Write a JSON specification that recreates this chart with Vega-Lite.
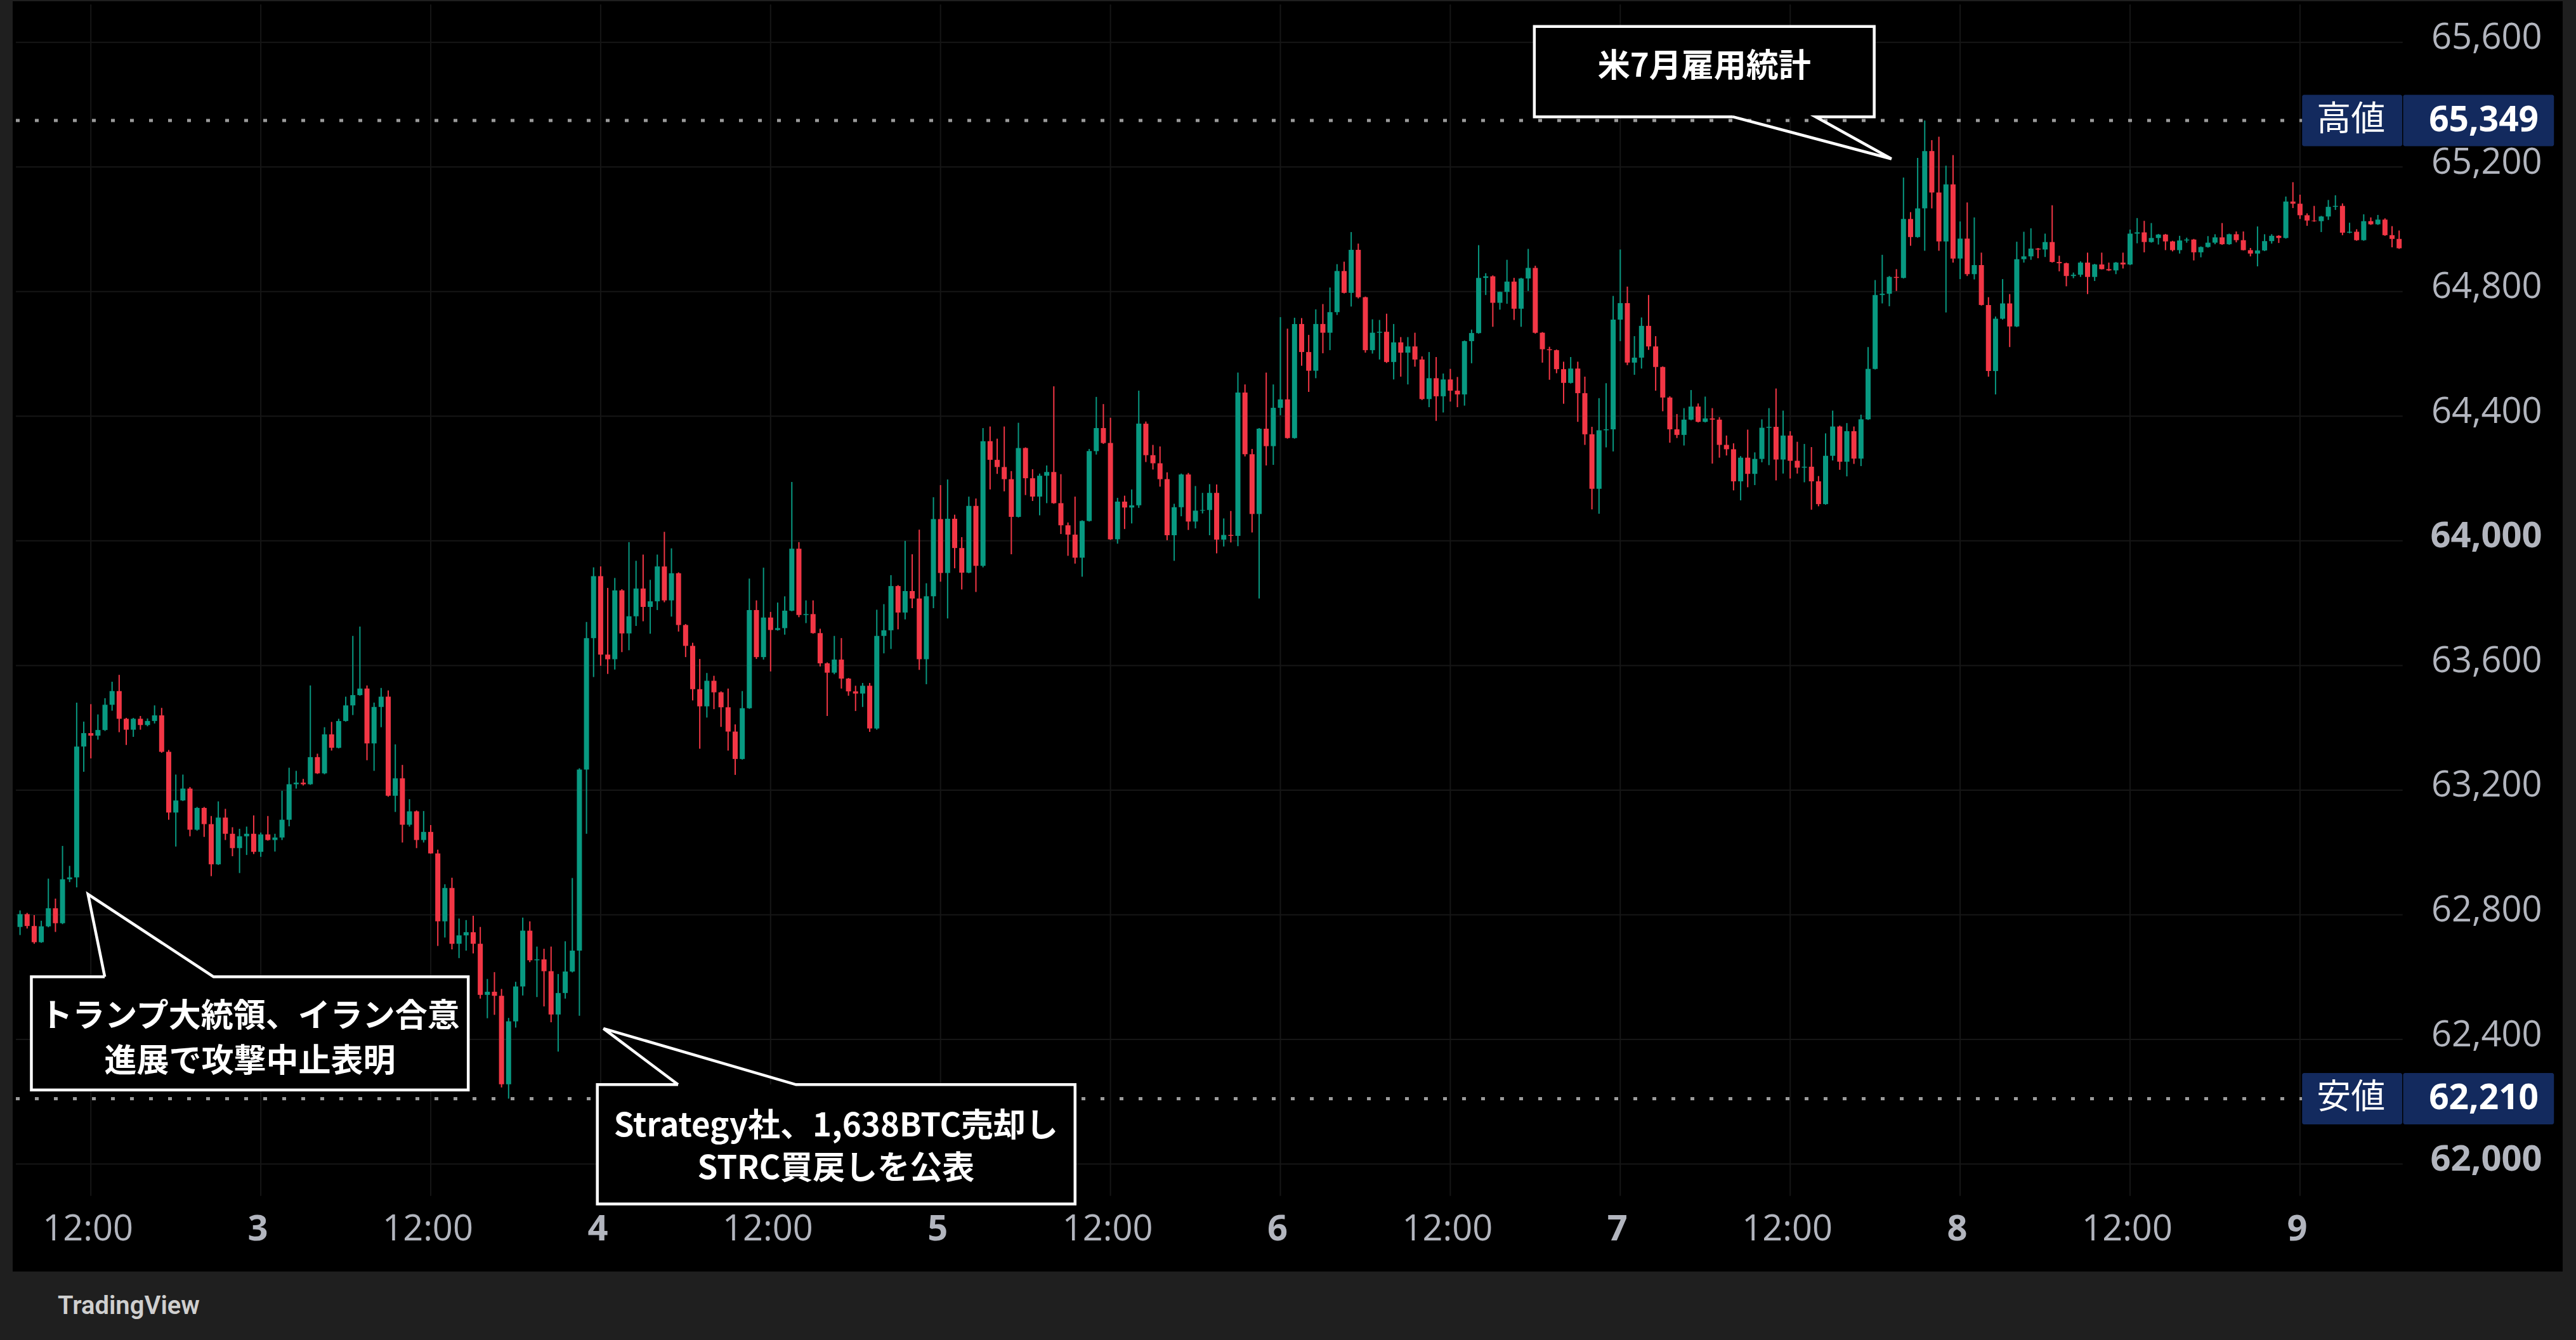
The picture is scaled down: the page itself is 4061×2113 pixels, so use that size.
{
  "$schema": "https://vega.github.io/schema/vega-lite/v6.json",
  "width": 4020,
  "height": 2003,
  "autosize": {"type": "none"},
  "padding": {"left": 20, "top": 2, "right": 21, "bottom": 108},
  "background": "#1f1f1f",
  "view": {"fill": "#000000", "stroke": null},
  "title": {
    "text": "TradingView",
    "orient": "bottom",
    "anchor": "start",
    "frame": "group",
    "offset": 55,
    "dx": 71,
    "baseline": "middle",
    "font": "Roboto",
    "fontSize": 40,
    "fontWeight": 600,
    "color": "#cfcfcf"
  },
  "datasets": {
    "candles": [
      {"t":"2026-08-02T07:00","o":62761,"h":62814,"l":62735,"c":62802},
      {"t":"2026-08-02T07:30","o":62802,"h":62806,"l":62756,"c":62764},
      {"t":"2026-08-02T08:00","o":62764,"h":62799,"l":62707,"c":62712},
      {"t":"2026-08-02T08:30","o":62712,"h":62781,"l":62710,"c":62763},
      {"t":"2026-08-02T09:00","o":62763,"h":62916,"l":62760,"c":62821},
      {"t":"2026-08-02T09:30","o":62821,"h":62852,"l":62745,"c":62773},
      {"t":"2026-08-02T10:00","o":62773,"h":63021,"l":62770,"c":62914},
      {"t":"2026-08-02T10:30","o":62914,"h":62957,"l":62905,"c":62920},
      {"t":"2026-08-02T11:00","o":62920,"h":63481,"l":62888,"c":63340},
      {"t":"2026-08-02T11:30","o":63340,"h":63420,"l":63259,"c":63383},
      {"t":"2026-08-02T12:00","o":63383,"h":63476,"l":63302,"c":63375},
      {"t":"2026-08-02T12:30","o":63375,"h":63443,"l":63362,"c":63393},
      {"t":"2026-08-02T13:00","o":63393,"h":63495,"l":63390,"c":63474},
      {"t":"2026-08-02T13:30","o":63474,"h":63548,"l":63455,"c":63518},
      {"t":"2026-08-02T14:00","o":63518,"h":63570,"l":63386,"c":63429},
      {"t":"2026-08-02T14:30","o":63429,"h":63432,"l":63345,"c":63394},
      {"t":"2026-08-02T15:00","o":63394,"h":63432,"l":63371,"c":63429},
      {"t":"2026-08-02T15:30","o":63429,"h":63438,"l":63394,"c":63409},
      {"t":"2026-08-02T16:00","o":63409,"h":63430,"l":63405,"c":63422},
      {"t":"2026-08-02T16:30","o":63422,"h":63472,"l":63414,"c":63440},
      {"t":"2026-08-02T17:00","o":63440,"h":63464,"l":63320,"c":63323},
      {"t":"2026-08-02T17:30","o":63323,"h":63329,"l":63105,"c":63128},
      {"t":"2026-08-02T18:00","o":63128,"h":63250,"l":63019,"c":63167},
      {"t":"2026-08-02T18:30","o":63167,"h":63250,"l":63165,"c":63205},
      {"t":"2026-08-02T19:00","o":63205,"h":63210,"l":63052,"c":63073},
      {"t":"2026-08-02T19:30","o":63073,"h":63146,"l":63070,"c":63143},
      {"t":"2026-08-02T20:00","o":63143,"h":63146,"l":63050,"c":63091},
      {"t":"2026-08-02T20:30","o":63091,"h":63117,"l":62924,"c":62962},
      {"t":"2026-08-02T21:00","o":62962,"h":63164,"l":62960,"c":63112},
      {"t":"2026-08-02T21:30","o":63112,"h":63140,"l":63040,"c":63060},
      {"t":"2026-08-02T22:00","o":63060,"h":63081,"l":62988,"c":63014},
      {"t":"2026-08-02T22:30","o":63014,"h":63076,"l":62934,"c":63052},
      {"t":"2026-08-02T23:00","o":63052,"h":63083,"l":62992,"c":63060},
      {"t":"2026-08-02T23:30","o":63060,"h":63119,"l":62995,"c":63002},
      {"t":"2026-08-03T00:00","o":63002,"h":63064,"l":62986,"c":63058},
      {"t":"2026-08-03T00:30","o":63058,"h":63117,"l":63038,"c":63040},
      {"t":"2026-08-03T01:00","o":63040,"h":63060,"l":63003,"c":63048},
      {"t":"2026-08-03T01:30","o":63048,"h":63198,"l":63040,"c":63105},
      {"t":"2026-08-03T02:00","o":63105,"h":63272,"l":63084,"c":63219},
      {"t":"2026-08-03T02:30","o":63219,"h":63262,"l":63205,"c":63224},
      {"t":"2026-08-03T03:00","o":63224,"h":63236,"l":63215,"c":63219},
      {"t":"2026-08-03T03:30","o":63219,"h":63536,"l":63217,"c":63306},
      {"t":"2026-08-03T04:00","o":63306,"h":63317,"l":63252,"c":63254},
      {"t":"2026-08-03T04:30","o":63254,"h":63402,"l":63251,"c":63379},
      {"t":"2026-08-03T05:00","o":63379,"h":63419,"l":63327,"c":63336},
      {"t":"2026-08-03T05:30","o":63336,"h":63429,"l":63334,"c":63422},
      {"t":"2026-08-03T06:00","o":63422,"h":63500,"l":63420,"c":63472},
      {"t":"2026-08-03T06:30","o":63472,"h":63695,"l":63441,"c":63505},
      {"t":"2026-08-03T07:00","o":63505,"h":63725,"l":63503,"c":63526},
      {"t":"2026-08-03T07:30","o":63526,"h":63536,"l":63296,"c":63350},
      {"t":"2026-08-03T08:00","o":63350,"h":63481,"l":63262,"c":63467},
      {"t":"2026-08-03T08:30","o":63467,"h":63528,"l":63402,"c":63500},
      {"t":"2026-08-03T09:00","o":63500,"h":63520,"l":63179,"c":63182},
      {"t":"2026-08-03T09:30","o":63182,"h":63347,"l":63130,"c":63238},
      {"t":"2026-08-03T10:00","o":63238,"h":63281,"l":63032,"c":63089},
      {"t":"2026-08-03T10:30","o":63089,"h":63171,"l":63083,"c":63132},
      {"t":"2026-08-03T11:00","o":63132,"h":63135,"l":63014,"c":63040},
      {"t":"2026-08-03T11:30","o":63040,"h":63133,"l":63032,"c":63066},
      {"t":"2026-08-03T12:00","o":63066,"h":63088,"l":62996,"c":62997},
      {"t":"2026-08-03T12:30","o":62997,"h":63009,"l":62700,"c":62779},
      {"t":"2026-08-03T13:00","o":62779,"h":62898,"l":62727,"c":62886},
      {"t":"2026-08-03T13:30","o":62886,"h":62919,"l":62689,"c":62707},
      {"t":"2026-08-03T14:00","o":62707,"h":62788,"l":62661,"c":62734},
      {"t":"2026-08-03T14:30","o":62734,"h":62783,"l":62685,"c":62744},
      {"t":"2026-08-03T15:00","o":62744,"h":62797,"l":62676,"c":62707},
      {"t":"2026-08-03T15:30","o":62707,"h":62761,"l":62531,"c":62543},
      {"t":"2026-08-03T16:00","o":62543,"h":62594,"l":62468,"c":62553},
      {"t":"2026-08-03T16:30","o":62553,"h":62616,"l":62479,"c":62540},
      {"t":"2026-08-03T17:00","o":62540,"h":62562,"l":62246,"c":62256},
      {"t":"2026-08-03T17:30","o":62256,"h":62469,"l":62210,"c":62458},
      {"t":"2026-08-03T18:00","o":62458,"h":62585,"l":62438,"c":62570},
      {"t":"2026-08-03T18:30","o":62570,"h":62791,"l":62541,"c":62749},
      {"t":"2026-08-03T19:00","o":62749,"h":62779,"l":62648,"c":62654},
      {"t":"2026-08-03T19:30","o":62654,"h":62698,"l":62536,"c":62657},
      {"t":"2026-08-03T20:00","o":62657,"h":62691,"l":62506,"c":62619},
      {"t":"2026-08-03T20:30","o":62619,"h":62698,"l":62455,"c":62480},
      {"t":"2026-08-03T21:00","o":62480,"h":62610,"l":62361,"c":62549},
      {"t":"2026-08-03T21:30","o":62549,"h":62715,"l":62531,"c":62618},
      {"t":"2026-08-03T22:00","o":62618,"h":62918,"l":62615,"c":62685},
      {"t":"2026-08-03T22:30","o":62685,"h":63270,"l":62476,"c":63266},
      {"t":"2026-08-03T23:00","o":63266,"h":63740,"l":63060,"c":63688},
      {"t":"2026-08-03T23:30","o":63688,"h":63915,"l":63563,"c":63887},
      {"t":"2026-08-04T00:00","o":63887,"h":63918,"l":63599,"c":63635},
      {"t":"2026-08-04T00:30","o":63635,"h":63849,"l":63573,"c":63620},
      {"t":"2026-08-04T01:00","o":63620,"h":63881,"l":63587,"c":63841},
      {"t":"2026-08-04T01:30","o":63841,"h":63845,"l":63643,"c":63703},
      {"t":"2026-08-04T02:00","o":63703,"h":63996,"l":63649,"c":63758},
      {"t":"2026-08-04T02:30","o":63758,"h":63936,"l":63727,"c":63847},
      {"t":"2026-08-04T03:00","o":63847,"h":63956,"l":63742,"c":63788},
      {"t":"2026-08-04T03:30","o":63788,"h":63875,"l":63702,"c":63806},
      {"t":"2026-08-04T04:00","o":63806,"h":63956,"l":63778,"c":63918},
      {"t":"2026-08-04T04:30","o":63918,"h":64029,"l":63803,"c":63809},
      {"t":"2026-08-04T05:00","o":63809,"h":63976,"l":63757,"c":63896},
      {"t":"2026-08-04T05:30","o":63896,"h":63899,"l":63709,"c":63730},
      {"t":"2026-08-04T06:00","o":63730,"h":63733,"l":63627,"c":63663},
      {"t":"2026-08-04T06:30","o":63663,"h":63673,"l":63488,"c":63524},
      {"t":"2026-08-04T07:00","o":63524,"h":63621,"l":63333,"c":63469},
      {"t":"2026-08-04T07:30","o":63469,"h":63576,"l":63433,"c":63551},
      {"t":"2026-08-04T08:00","o":63551,"h":63567,"l":63460,"c":63514},
      {"t":"2026-08-04T08:30","o":63514,"h":63517,"l":63403,"c":63466},
      {"t":"2026-08-04T09:00","o":63466,"h":63526,"l":63327,"c":63388},
      {"t":"2026-08-04T09:30","o":63388,"h":63411,"l":63249,"c":63300},
      {"t":"2026-08-04T10:00","o":63300,"h":63518,"l":63298,"c":63463},
      {"t":"2026-08-04T10:30","o":63463,"h":63879,"l":63461,"c":63778},
      {"t":"2026-08-04T11:00","o":63778,"h":63809,"l":63621,"c":63627},
      {"t":"2026-08-04T11:30","o":63627,"h":63914,"l":63619,"c":63754},
      {"t":"2026-08-04T12:00","o":63754,"h":63772,"l":63581,"c":63714},
      {"t":"2026-08-04T12:30","o":63714,"h":63802,"l":63712,"c":63720},
      {"t":"2026-08-04T13:00","o":63720,"h":63822,"l":63699,"c":63776},
      {"t":"2026-08-04T13:30","o":63776,"h":64189,"l":63774,"c":63975},
      {"t":"2026-08-04T14:00","o":63975,"h":63996,"l":63755,"c":63762},
      {"t":"2026-08-04T14:30","o":63762,"h":63809,"l":63736,"c":63765},
      {"t":"2026-08-04T15:00","o":63765,"h":63809,"l":63702,"c":63704},
      {"t":"2026-08-04T15:30","o":63704,"h":63718,"l":63597,"c":63607},
      {"t":"2026-08-04T16:00","o":63607,"h":63610,"l":63438,"c":63577},
      {"t":"2026-08-04T16:30","o":63577,"h":63695,"l":63572,"c":63619},
      {"t":"2026-08-04T17:00","o":63619,"h":63688,"l":63526,"c":63558},
      {"t":"2026-08-04T17:30","o":63558,"h":63560,"l":63503,"c":63517},
      {"t":"2026-08-04T18:00","o":63517,"h":63535,"l":63454,"c":63510},
      {"t":"2026-08-04T18:30","o":63510,"h":63544,"l":63467,"c":63535},
      {"t":"2026-08-04T19:00","o":63535,"h":63544,"l":63387,"c":63398},
      {"t":"2026-08-04T19:30","o":63398,"h":63779,"l":63394,"c":63695},
      {"t":"2026-08-04T20:00","o":63695,"h":63797,"l":63639,"c":63713},
      {"t":"2026-08-04T20:30","o":63713,"h":63890,"l":63653,"c":63855},
      {"t":"2026-08-04T21:00","o":63855,"h":63858,"l":63716,"c":63770},
      {"t":"2026-08-04T21:30","o":63770,"h":64000,"l":63748,"c":63839},
      {"t":"2026-08-04T22:00","o":63839,"h":63957,"l":63784,"c":63815},
      {"t":"2026-08-04T22:30","o":63815,"h":64036,"l":63586,"c":63620},
      {"t":"2026-08-04T23:00","o":63620,"h":63864,"l":63540,"c":63822},
      {"t":"2026-08-04T23:30","o":63822,"h":64140,"l":63784,"c":64070},
      {"t":"2026-08-05T00:00","o":64070,"h":64179,"l":63869,"c":63897},
      {"t":"2026-08-05T00:30","o":63897,"h":64197,"l":63751,"c":64071},
      {"t":"2026-08-05T01:00","o":64071,"h":64084,"l":63912,"c":63977},
      {"t":"2026-08-05T01:30","o":63977,"h":64012,"l":63844,"c":63898},
      {"t":"2026-08-05T02:00","o":63898,"h":64142,"l":63896,"c":64112},
      {"t":"2026-08-05T02:30","o":64112,"h":64136,"l":63836,"c":63920},
      {"t":"2026-08-05T03:00","o":63920,"h":64362,"l":63915,"c":64320},
      {"t":"2026-08-05T03:30","o":64320,"h":64367,"l":64165,"c":64260},
      {"t":"2026-08-05T04:00","o":64260,"h":64328,"l":64215,"c":64237},
      {"t":"2026-08-05T04:30","o":64237,"h":64367,"l":64159,"c":64198},
      {"t":"2026-08-05T05:00","o":64198,"h":64224,"l":63957,"c":64077},
      {"t":"2026-08-05T05:30","o":64077,"h":64379,"l":64075,"c":64298},
      {"t":"2026-08-05T06:00","o":64298,"h":64300,"l":64147,"c":64201},
      {"t":"2026-08-05T06:30","o":64201,"h":64230,"l":64128,"c":64142},
      {"t":"2026-08-05T07:00","o":64142,"h":64216,"l":64082,"c":64209},
      {"t":"2026-08-05T07:30","o":64209,"h":64242,"l":64121,"c":64221},
      {"t":"2026-08-05T08:00","o":64221,"h":64496,"l":64119,"c":64121},
      {"t":"2026-08-05T08:30","o":64121,"h":64214,"l":64022,"c":64050},
      {"t":"2026-08-05T09:00","o":64050,"h":64059,"l":63952,"c":64020},
      {"t":"2026-08-05T09:30","o":64020,"h":64142,"l":63927,"c":63946},
      {"t":"2026-08-05T10:00","o":63946,"h":64066,"l":63885,"c":64064},
      {"t":"2026-08-05T10:30","o":64064,"h":64295,"l":64062,"c":64288},
      {"t":"2026-08-05T11:00","o":64288,"h":64462,"l":64277,"c":64362},
      {"t":"2026-08-05T11:30","o":64362,"h":64439,"l":64311,"c":64314},
      {"t":"2026-08-05T12:00","o":64314,"h":64395,"l":64003,"c":64005},
      {"t":"2026-08-05T12:30","o":64005,"h":64138,"l":63991,"c":64126},
      {"t":"2026-08-05T13:00","o":64126,"h":64145,"l":64038,"c":64107},
      {"t":"2026-08-05T13:30","o":64107,"h":64165,"l":64056,"c":64114},
      {"t":"2026-08-05T14:00","o":64114,"h":64482,"l":64106,"c":64376},
      {"t":"2026-08-05T14:30","o":64376,"h":64383,"l":64253,"c":64275},
      {"t":"2026-08-05T15:00","o":64275,"h":64308,"l":64229,"c":64249},
      {"t":"2026-08-05T15:30","o":64249,"h":64303,"l":64174,"c":64198},
      {"t":"2026-08-05T16:00","o":64198,"h":64220,"l":64002,"c":64018},
      {"t":"2026-08-05T16:30","o":64018,"h":64119,"l":63936,"c":64108},
      {"t":"2026-08-05T17:00","o":64108,"h":64216,"l":64079,"c":64213},
      {"t":"2026-08-05T17:30","o":64213,"h":64218,"l":64035,"c":64062},
      {"t":"2026-08-05T18:00","o":64062,"h":64176,"l":64040,"c":64097},
      {"t":"2026-08-05T18:30","o":64097,"h":64154,"l":64088,"c":64099},
      {"t":"2026-08-05T19:00","o":64099,"h":64182,"l":64018,"c":64154},
      {"t":"2026-08-05T19:30","o":64154,"h":64181,"l":63960,"c":64004},
      {"t":"2026-08-05T20:00","o":64004,"h":64072,"l":63982,"c":64019},
      {"t":"2026-08-05T20:30","o":64019,"h":64096,"l":63995,"c":64016},
      {"t":"2026-08-05T21:00","o":64016,"h":64540,"l":63983,"c":64476},
      {"t":"2026-08-05T21:30","o":64476,"h":64502,"l":64271,"c":64278},
      {"t":"2026-08-05T22:00","o":64278,"h":64295,"l":64027,"c":64086},
      {"t":"2026-08-05T22:30","o":64086,"h":64362,"l":63815,"c":64360},
      {"t":"2026-08-05T23:00","o":64360,"h":64540,"l":64242,"c":64304},
      {"t":"2026-08-05T23:30","o":64304,"h":64502,"l":64244,"c":64427},
      {"t":"2026-08-06T00:00","o":64427,"h":64718,"l":64403,"c":64454},
      {"t":"2026-08-06T00:30","o":64454,"h":64681,"l":64328,"c":64330},
      {"t":"2026-08-06T01:00","o":64330,"h":64716,"l":64328,"c":64696},
      {"t":"2026-08-06T01:30","o":64696,"h":64715,"l":64562,"c":64606},
      {"t":"2026-08-06T02:00","o":64606,"h":64661,"l":64478,"c":64546},
      {"t":"2026-08-06T02:30","o":64546,"h":64743,"l":64522,"c":64696},
      {"t":"2026-08-06T03:00","o":64696,"h":64760,"l":64602,"c":64668},
      {"t":"2026-08-06T03:30","o":64668,"h":64813,"l":64612,"c":64734},
      {"t":"2026-08-06T04:00","o":64734,"h":64888,"l":64725,"c":64866},
      {"t":"2026-08-06T04:30","o":64866,"h":64896,"l":64794,"c":64796},
      {"t":"2026-08-06T05:00","o":64796,"h":64991,"l":64752,"c":64934},
      {"t":"2026-08-06T05:30","o":64934,"h":64954,"l":64778,"c":64782},
      {"t":"2026-08-06T06:00","o":64782,"h":64784,"l":64604,"c":64612},
      {"t":"2026-08-06T06:30","o":64612,"h":64711,"l":64601,"c":64668},
      {"t":"2026-08-06T07:00","o":64668,"h":64709,"l":64582,"c":64671},
      {"t":"2026-08-06T07:30","o":64671,"h":64729,"l":64571,"c":64574},
      {"t":"2026-08-06T08:00","o":64574,"h":64696,"l":64518,"c":64637},
      {"t":"2026-08-06T08:30","o":64637,"h":64654,"l":64527,"c":64604},
      {"t":"2026-08-06T09:00","o":64604,"h":64654,"l":64502,"c":64624},
      {"t":"2026-08-06T09:30","o":64624,"h":64668,"l":64559,"c":64582},
      {"t":"2026-08-06T10:00","o":64582,"h":64592,"l":64452,"c":64455},
      {"t":"2026-08-06T10:30","o":64455,"h":64606,"l":64429,"c":64522},
      {"t":"2026-08-06T11:00","o":64522,"h":64590,"l":64385,"c":64464},
      {"t":"2026-08-06T11:30","o":64464,"h":64537,"l":64412,"c":64518},
      {"t":"2026-08-06T12:00","o":64518,"h":64552,"l":64447,"c":64482},
      {"t":"2026-08-06T12:30","o":64482,"h":64526,"l":64429,"c":64470},
      {"t":"2026-08-06T13:00","o":64470,"h":64643,"l":64434,"c":64641},
      {"t":"2026-08-06T13:30","o":64641,"h":64678,"l":64570,"c":64667},
      {"t":"2026-08-06T14:00","o":64667,"h":64949,"l":64665,"c":64844},
      {"t":"2026-08-06T14:30","o":64844,"h":64859,"l":64789,"c":64849},
      {"t":"2026-08-06T15:00","o":64849,"h":64852,"l":64687,"c":64764},
      {"t":"2026-08-06T15:30","o":64764,"h":64800,"l":64742,"c":64799},
      {"t":"2026-08-06T16:00","o":64799,"h":64902,"l":64761,"c":64832},
      {"t":"2026-08-06T16:30","o":64832,"h":64844,"l":64709,"c":64745},
      {"t":"2026-08-06T17:00","o":64745,"h":64844,"l":64687,"c":64842},
      {"t":"2026-08-06T17:30","o":64842,"h":64937,"l":64802,"c":64876},
      {"t":"2026-08-06T18:00","o":64876,"h":64883,"l":64665,"c":64668},
      {"t":"2026-08-06T18:30","o":64668,"h":64670,"l":64572,"c":64615},
      {"t":"2026-08-06T19:00","o":64615,"h":64623,"l":64517,"c":64612},
      {"t":"2026-08-06T19:30","o":64612,"h":64614,"l":64538,"c":64551},
      {"t":"2026-08-06T20:00","o":64551,"h":64575,"l":64440,"c":64507},
      {"t":"2026-08-06T20:30","o":64507,"h":64590,"l":64505,"c":64553},
      {"t":"2026-08-06T21:00","o":64553,"h":64575,"l":64382,"c":64474},
      {"t":"2026-08-06T21:30","o":64474,"h":64527,"l":64308,"c":64342},
      {"t":"2026-08-06T22:00","o":64342,"h":64366,"l":64101,"c":64167},
      {"t":"2026-08-06T22:30","o":64167,"h":64458,"l":64087,"c":64355},
      {"t":"2026-08-06T23:00","o":64355,"h":64506,"l":64300,"c":64358},
      {"t":"2026-08-06T23:30","o":64358,"h":64786,"l":64287,"c":64710},
      {"t":"2026-08-07T00:00","o":64710,"h":64935,"l":64641,"c":64763},
      {"t":"2026-08-07T00:30","o":64763,"h":64816,"l":64564,"c":64572},
      {"t":"2026-08-07T01:00","o":64572,"h":64657,"l":64533,"c":64588},
      {"t":"2026-08-07T01:30","o":64588,"h":64717,"l":64553,"c":64690},
      {"t":"2026-08-07T02:00","o":64690,"h":64789,"l":64613,"c":64624},
      {"t":"2026-08-07T02:30","o":64624,"h":64657,"l":64482,"c":64558},
      {"t":"2026-08-07T03:00","o":64558,"h":64560,"l":64416,"c":64460},
      {"t":"2026-08-07T03:30","o":64460,"h":64464,"l":64315,"c":64358},
      {"t":"2026-08-07T04:00","o":64358,"h":64407,"l":64330,"c":64340},
      {"t":"2026-08-07T04:30","o":64340,"h":64426,"l":64306,"c":64389},
      {"t":"2026-08-07T05:00","o":64389,"h":64484,"l":64387,"c":64431},
      {"t":"2026-08-07T05:30","o":64431,"h":64441,"l":64380,"c":64382},
      {"t":"2026-08-07T06:00","o":64382,"h":64463,"l":64380,"c":64393},
      {"t":"2026-08-07T06:30","o":64393,"h":64426,"l":64248,"c":64389},
      {"t":"2026-08-07T07:00","o":64389,"h":64397,"l":64267,"c":64308},
      {"t":"2026-08-07T07:30","o":64308,"h":64338,"l":64274,"c":64294},
      {"t":"2026-08-07T08:00","o":64294,"h":64313,"l":64162,"c":64191},
      {"t":"2026-08-07T08:30","o":64191,"h":64272,"l":64130,"c":64267},
      {"t":"2026-08-07T09:00","o":64267,"h":64357,"l":64172,"c":64215},
      {"t":"2026-08-07T09:30","o":64215,"h":64284,"l":64179,"c":64263},
      {"t":"2026-08-07T10:00","o":64263,"h":64390,"l":64252,"c":64363},
      {"t":"2026-08-07T10:30","o":64363,"h":64426,"l":64243,"c":64366},
      {"t":"2026-08-07T11:00","o":64366,"h":64489,"l":64194,"c":64261},
      {"t":"2026-08-07T11:30","o":64261,"h":64418,"l":64216,"c":64338},
      {"t":"2026-08-07T12:00","o":64338,"h":64352,"l":64200,"c":64257},
      {"t":"2026-08-07T12:30","o":64257,"h":64318,"l":64216,"c":64235},
      {"t":"2026-08-07T13:00","o":64235,"h":64311,"l":64188,"c":64238},
      {"t":"2026-08-07T13:30","o":64238,"h":64301,"l":64100,"c":64191},
      {"t":"2026-08-07T14:00","o":64191,"h":64208,"l":64111,"c":64118},
      {"t":"2026-08-07T14:30","o":64118,"h":64345,"l":64116,"c":64273},
      {"t":"2026-08-07T15:00","o":64273,"h":64418,"l":64258,"c":64367},
      {"t":"2026-08-07T15:30","o":64367,"h":64370,"l":64228,"c":64254},
      {"t":"2026-08-07T16:00","o":64254,"h":64378,"l":64207,"c":64352},
      {"t":"2026-08-07T16:30","o":64352,"h":64367,"l":64247,"c":64264},
      {"t":"2026-08-07T17:00","o":64264,"h":64405,"l":64240,"c":64390},
      {"t":"2026-08-07T17:30","o":64390,"h":64622,"l":64388,"c":64552},
      {"t":"2026-08-07T18:00","o":64552,"h":64837,"l":64550,"c":64789},
      {"t":"2026-08-07T18:30","o":64789,"h":64918,"l":64762,"c":64793},
      {"t":"2026-08-07T19:00","o":64793,"h":64850,"l":64753,"c":64847},
      {"t":"2026-08-07T19:30","o":64847,"h":64872,"l":64802,"c":64844},
      {"t":"2026-08-07T20:00","o":64844,"h":65166,"l":64842,"c":65033},
      {"t":"2026-08-07T20:30","o":65033,"h":65055,"l":64947,"c":64975},
      {"t":"2026-08-07T21:00","o":64975,"h":65229,"l":64973,"c":65067},
      {"t":"2026-08-07T21:30","o":65067,"h":65349,"l":64931,"c":65251},
      {"t":"2026-08-07T22:00","o":65251,"h":65286,"l":65067,"c":65118},
      {"t":"2026-08-07T22:30","o":65118,"h":65297,"l":64931,"c":64961},
      {"t":"2026-08-07T23:00","o":64961,"h":65204,"l":64733,"c":65144},
      {"t":"2026-08-07T23:30","o":65144,"h":65238,"l":64893,"c":64906},
      {"t":"2026-08-08T00:00","o":64906,"h":65025,"l":64840,"c":64970},
      {"t":"2026-08-08T00:30","o":64970,"h":65086,"l":64850,"c":64856},
      {"t":"2026-08-08T01:00","o":64856,"h":65038,"l":64839,"c":64885},
      {"t":"2026-08-08T01:30","o":64885,"h":64925,"l":64755,"c":64757},
      {"t":"2026-08-08T02:00","o":64757,"h":64782,"l":64527,"c":64545},
      {"t":"2026-08-08T02:30","o":64545,"h":64720,"l":64470,"c":64713},
      {"t":"2026-08-08T03:00","o":64713,"h":64840,"l":64710,"c":64762},
      {"t":"2026-08-08T03:30","o":64762,"h":64792,"l":64622,"c":64688},
      {"t":"2026-08-08T04:00","o":64688,"h":64960,"l":64686,"c":64904},
      {"t":"2026-08-08T04:30","o":64904,"h":64992,"l":64893,"c":64913},
      {"t":"2026-08-08T05:00","o":64913,"h":65003,"l":64902,"c":64938},
      {"t":"2026-08-08T05:30","o":64938,"h":64940,"l":64907,"c":64935},
      {"t":"2026-08-08T06:00","o":64935,"h":64986,"l":64911,"c":64959},
      {"t":"2026-08-08T06:30","o":64959,"h":65077,"l":64893,"c":64895},
      {"t":"2026-08-08T07:00","o":64895,"h":64915,"l":64865,"c":64891},
      {"t":"2026-08-08T07:30","o":64891,"h":64893,"l":64817,"c":64850},
      {"t":"2026-08-08T08:00","o":64850,"h":64861,"l":64843,"c":64854},
      {"t":"2026-08-08T08:30","o":64854,"h":64897,"l":64847,"c":64893},
      {"t":"2026-08-08T09:00","o":64893,"h":64925,"l":64792,"c":64847},
      {"t":"2026-08-08T09:30","o":64847,"h":64889,"l":64834,"c":64887},
      {"t":"2026-08-08T10:00","o":64887,"h":64925,"l":64871,"c":64872},
      {"t":"2026-08-08T10:30","o":64872,"h":64893,"l":64866,"c":64868},
      {"t":"2026-08-08T11:00","o":64868,"h":64895,"l":64856,"c":64893},
      {"t":"2026-08-08T11:30","o":64893,"h":64925,"l":64874,"c":64887},
      {"t":"2026-08-08T12:00","o":64887,"h":64999,"l":64885,"c":64986},
      {"t":"2026-08-08T12:30","o":64986,"h":65036,"l":64955,"c":64990},
      {"t":"2026-08-08T13:00","o":64990,"h":65027,"l":64926,"c":64959},
      {"t":"2026-08-08T13:30","o":64959,"h":65020,"l":64957,"c":64972},
      {"t":"2026-08-08T14:00","o":64972,"h":64985,"l":64951,"c":64983},
      {"t":"2026-08-08T14:30","o":64983,"h":64985,"l":64933,"c":64961},
      {"t":"2026-08-08T15:00","o":64961,"h":64963,"l":64929,"c":64933},
      {"t":"2026-08-08T15:30","o":64933,"h":64979,"l":64922,"c":64964},
      {"t":"2026-08-08T16:00","o":64964,"h":64973,"l":64957,"c":64967},
      {"t":"2026-08-08T16:30","o":64967,"h":64969,"l":64900,"c":64926},
      {"t":"2026-08-08T17:00","o":64926,"h":64945,"l":64910,"c":64943},
      {"t":"2026-08-08T17:30","o":64943,"h":64978,"l":64941,"c":64957},
      {"t":"2026-08-08T18:00","o":64957,"h":64984,"l":64952,"c":64974},
      {"t":"2026-08-08T18:30","o":64974,"h":65020,"l":64950,"c":64952},
      {"t":"2026-08-08T19:00","o":64952,"h":64986,"l":64950,"c":64984},
      {"t":"2026-08-08T19:30","o":64984,"h":64993,"l":64958,"c":64965},
      {"t":"2026-08-08T20:00","o":64965,"h":64993,"l":64932,"c":64933},
      {"t":"2026-08-08T20:30","o":64933,"h":64940,"l":64913,"c":64922},
      {"t":"2026-08-08T21:00","o":64922,"h":65009,"l":64881,"c":64932},
      {"t":"2026-08-08T21:30","o":64932,"h":64984,"l":64930,"c":64962},
      {"t":"2026-08-08T22:00","o":64962,"h":64984,"l":64954,"c":64979},
      {"t":"2026-08-08T22:30","o":64979,"h":64981,"l":64956,"c":64972},
      {"t":"2026-08-08T23:00","o":64972,"h":65105,"l":64970,"c":65089},
      {"t":"2026-08-08T23:30","o":65089,"h":65151,"l":65068,"c":65082},
      {"t":"2026-08-09T00:00","o":65082,"h":65111,"l":65033,"c":65045},
      {"t":"2026-08-09T00:30","o":65045,"h":65051,"l":65011,"c":65028},
      {"t":"2026-08-09T01:00","o":65028,"h":65075,"l":65024,"c":65026},
      {"t":"2026-08-09T01:30","o":65026,"h":65043,"l":64991,"c":65041},
      {"t":"2026-08-09T02:00","o":65041,"h":65094,"l":65030,"c":65072},
      {"t":"2026-08-09T02:30","o":65072,"h":65109,"l":65062,"c":65075},
      {"t":"2026-08-09T03:00","o":65075,"h":65083,"l":64981,"c":64989},
      {"t":"2026-08-09T03:30","o":64989,"h":65021,"l":64987,"c":64992},
      {"t":"2026-08-09T04:00","o":64992,"h":65000,"l":64963,"c":64965},
      {"t":"2026-08-09T04:30","o":64965,"h":65048,"l":64963,"c":65026},
      {"t":"2026-08-09T05:00","o":65026,"h":65038,"l":65014,"c":65016},
      {"t":"2026-08-09T05:30","o":65016,"h":65046,"l":65014,"c":65031},
      {"t":"2026-08-09T06:00","o":65031,"h":65035,"l":64979,"c":64981},
      {"t":"2026-08-09T06:30","o":64981,"h":65010,"l":64942,"c":64969},
      {"t":"2026-08-09T07:00","o":64969,"h":64996,"l":64937,"c":64939}
    ],
    "ygrid": [
      {"p":62000},{"p":62400},{"p":62800},{"p":63200},{"p":63600},
      {"p":64000},{"p":64400},{"p":64800},{"p":65200},{"p":65600}
    ],
    "xgrid": [
      {"t":"2026-08-02T12:00"},{"t":"2026-08-03T00:00"},{"t":"2026-08-03T12:00"},
      {"t":"2026-08-04T00:00"},{"t":"2026-08-04T12:00"},{"t":"2026-08-05T00:00"},
      {"t":"2026-08-05T12:00"},{"t":"2026-08-06T00:00"},{"t":"2026-08-06T12:00"},
      {"t":"2026-08-07T00:00"},{"t":"2026-08-07T12:00"},{"t":"2026-08-08T00:00"},
      {"t":"2026-08-08T12:00"},{"t":"2026-08-09T00:00"}
    ],
    "hl": [
      {"lab":"高値","p":65349},
      {"lab":"安値","p":62210}
    ],
    "boxes": [
      {"g":1,"t1":"2026-08-02T07:48","t2":"2026-08-03T14:39","p1":62238,"p2":62601},
      {"g":2,"t1":"2026-08-03T23:46","t2":"2026-08-05T09:30","p1":61872,"p2":62255},
      {"g":3,"t1":"2026-08-06T17:56","t2":"2026-08-07T17:56","p1":65361,"p2":65651}
    ],
    "callout": [
      {"g":1,"k":0,"t":"2026-08-02T12:59","p":62601},
      {"g":1,"k":1,"t":"2026-08-02T11:48","p":62866},
      {"g":1,"k":2,"t":"2026-08-02T20:40","p":62601},
      {"g":1,"k":3,"t":"2026-08-03T14:39","p":62601},
      {"g":1,"k":4,"t":"2026-08-03T14:39","p":62238},
      {"g":1,"k":5,"t":"2026-08-02T07:48","p":62238},
      {"g":1,"k":6,"t":"2026-08-02T07:48","p":62601},
      {"g":1,"k":7,"t":"2026-08-02T12:59","p":62601},
      {"g":2,"k":0,"t":"2026-08-04T05:28","p":62255},
      {"g":2,"k":1,"t":"2026-08-04T00:12","p":62435},
      {"g":2,"k":2,"t":"2026-08-04T13:48","p":62255},
      {"g":2,"k":3,"t":"2026-08-05T09:30","p":62255},
      {"g":2,"k":4,"t":"2026-08-05T09:30","p":61872},
      {"g":2,"k":5,"t":"2026-08-03T23:46","p":61872},
      {"g":2,"k":6,"t":"2026-08-03T23:46","p":62255},
      {"g":2,"k":7,"t":"2026-08-04T05:28","p":62255},
      {"g":3,"k":0,"t":"2026-08-07T07:57","p":65361},
      {"g":3,"k":1,"t":"2026-08-07T19:09","p":65226},
      {"g":3,"k":2,"t":"2026-08-07T13:48","p":65361},
      {"g":3,"k":3,"t":"2026-08-07T17:56","p":65361},
      {"g":3,"k":4,"t":"2026-08-07T17:56","p":65651},
      {"g":3,"k":5,"t":"2026-08-06T17:56","p":65651},
      {"g":3,"k":6,"t":"2026-08-06T17:56","p":65361},
      {"g":3,"k":7,"t":"2026-08-07T07:57","p":65361}
    ],
    "notes": [
      {"t":"2026-08-02T23:14","p":62471,"txt":"トランプ大統領、イラン合意"},
      {"t":"2026-08-02T23:14","p":62327,"txt":"進展で攻撃中止表明"},
      {"t":"2026-08-04T16:37","p":62119,"txt":"Strategy社、1,638BTC売却し"},
      {"t":"2026-08-04T16:37","p":61983,"txt":"STRC買戻しを公表"},
      {"t":"2026-08-07T05:56","p":65521,"txt":"米7月雇用統計"}
    ]
  },
  "layer": [
    {
      "data": {"name": "ygrid"},
      "mark": {"type": "rule", "color": "#161616", "strokeWidth": 2},
      "encoding": {
        "y": {
          "field": "p",
          "type": "quantitative",
          "scale": {"domain": [61665.4, 65721.5], "nice": false, "zero": false},
          "axis": {
            "orient": "right",
            "title": null,
            "domain": false,
            "ticks": false,
            "tickSize": 0,
            "grid": false,
            "values": [62000, 62400, 62800, 63200, 63600, 64000, 64400, 64800, 65200, 65600],
            "labelExpr": "format(datum.value, ',')",
            "labelPadding": -33,
            "labelOffset": -7,
            "labelAlign": "right",
            "labelBaseline": "middle",
            "labelFont": "Open Sans",
            "labelFontSize": 56,
            "labelColor": "#b2b5be",
            "labelFontWeight": {"condition": {"test": "datum.value % 1000 == 0", "value": "bold"}, "value": "normal"},
            "labelLimit": 600,
            "labelFlush": false,
            "labelOverlap": false
          }
        },
        "x": {
          "datum": {"year": 2026, "month": 8, "date": 2, "hours": 6, "minutes": 42, "seconds": 18},
          "type": "temporal",
          "scale": {
            "domain": [
              {"year": 2026, "month": 8, "date": 2, "hours": 6, "minutes": 42, "seconds": 18},
              {"year": 2026, "month": 8, "date": 9, "hours": 18, "minutes": 19, "seconds": 30}
            ],
            "nice": false
          },
          "axis": {
            "title": null,
            "domain": false,
            "ticks": false,
            "tickSize": 0,
            "grid": false,
            "values": [
              {"year": 2026, "month": 8, "date": 2, "hours": 12},
              {"year": 2026, "month": 8, "date": 3, "hours": 0},
              {"year": 2026, "month": 8, "date": 3, "hours": 12},
              {"year": 2026, "month": 8, "date": 4, "hours": 0},
              {"year": 2026, "month": 8, "date": 4, "hours": 12},
              {"year": 2026, "month": 8, "date": 5, "hours": 0},
              {"year": 2026, "month": 8, "date": 5, "hours": 12},
              {"year": 2026, "month": 8, "date": 6, "hours": 0},
              {"year": 2026, "month": 8, "date": 6, "hours": 12},
              {"year": 2026, "month": 8, "date": 7, "hours": 0},
              {"year": 2026, "month": 8, "date": 7, "hours": 12},
              {"year": 2026, "month": 8, "date": 8, "hours": 0},
              {"year": 2026, "month": 8, "date": 8, "hours": 12},
              {"year": 2026, "month": 8, "date": 9, "hours": 0}
            ],
            "labelExpr": "hours(datum.value) == 0 ? timeFormat(datum.value, '%-d') : timeFormat(datum.value, '%H:%M')",
            "labelPadding": -67,
            "labelOffset": -5,
            "labelBaseline": "middle",
            "labelFont": "Open Sans",
            "labelFontSize": 56,
            "labelColor": "#b2b5be",
            "labelFontWeight": {"condition": {"test": "hours(datum.value) == 0", "value": "bold"}, "value": "normal"},
            "labelFlush": false,
            "labelOverlap": false
          }
        },
        "x2": {"datum": {"year": 2026, "month": 8, "date": 9, "hours": 7, "minutes": 15}}
      }
    },
    {
      "data": {"name": "xgrid"},
      "mark": {"type": "rule", "color": "#161616", "strokeWidth": 2},
      "encoding": {
        "x": {"field": "t", "type": "temporal"},
        "y": {"datum": 65721.5, "type": "quantitative"},
        "y2": {"datum": 61898}
      }
    },
    {
      "data": {"name": "hl"},
      "mark": {"type": "rule", "color": "#9b9b9b", "strokeWidth": 5, "strokeDash": [6, 24]},
      "encoding": {
        "y": {"field": "p", "type": "quantitative"},
        "x": {"datum": {"year": 2026, "month": 8, "date": 2, "hours": 6, "minutes": 42, "seconds": 18}, "type": "temporal"},
        "x2": {"datum": {"year": 2026, "month": 8, "date": 9, "hours": 0, "minutes": 9}}
      }
    },
    {
      "data": {"name": "candles"},
      "mark": {"type": "rule", "strokeWidth": 2},
      "encoding": {
        "x": {"field": "t", "type": "temporal"},
        "y": {"field": "l", "type": "quantitative"},
        "y2": {"field": "h"},
        "color": {"condition": {"test": "datum.c >= datum.o", "value": "#089981"}, "value": "#f23645"}
      }
    },
    {
      "data": {"name": "candles"},
      "mark": {"type": "bar", "size": 8},
      "encoding": {
        "x": {"field": "t", "type": "temporal"},
        "y": {"field": "o", "type": "quantitative"},
        "y2": {"field": "c"},
        "color": {"condition": {"test": "datum.c >= datum.o", "value": "#089981"}, "value": "#f23645"}
      }
    },
    {
      "data": {"name": "boxes"},
      "mark": {"type": "rect", "fill": "#000000"},
      "encoding": {
        "x": {"field": "t1", "type": "temporal"},
        "x2": {"field": "t2"},
        "y": {"field": "p1", "type": "quantitative"},
        "y2": {"field": "p2"}
      }
    },
    {
      "data": {"name": "callout"},
      "mark": {"type": "line", "color": "#ffffff", "strokeWidth": 4.5, "strokeJoin": "miter"},
      "encoding": {
        "x": {"field": "t", "type": "temporal"},
        "y": {"field": "p", "type": "quantitative"},
        "detail": {"field": "g"},
        "order": {"field": "k", "type": "quantitative"}
      }
    },
    {
      "data": {"name": "notes"},
      "mark": {"type": "text", "font": "Noto Sans CJK JP", "fontSize": 51, "fontWeight": "bold", "color": "#ffffff", "align": "center", "baseline": "middle"},
      "encoding": {
        "x": {"field": "t", "type": "temporal"},
        "y": {"field": "p", "type": "quantitative"},
        "text": {"field": "txt"}
      }
    },
    {
      "data": {"name": "hl"},
      "mark": {"type": "bar", "orient": "horizontal", "size": 81, "color": "#132a5e", "cornerRadius": 3},
      "encoding": {
        "y": {"field": "p", "type": "quantitative"},
        "x": {"datum": {"year": 2026, "month": 8, "date": 9, "hours": 0, "minutes": 9}, "type": "temporal"},
        "x2": {"datum": {"year": 2026, "month": 8, "date": 9, "hours": 7, "minutes": 13}}
      }
    },
    {
      "data": {"name": "hl"},
      "mark": {"type": "bar", "orient": "horizontal", "size": 81, "color": "#132a5e", "cornerRadius": 3},
      "encoding": {
        "y": {"field": "p", "type": "quantitative"},
        "x": {"datum": {"year": 2026, "month": 8, "date": 9, "hours": 7, "minutes": 17}, "type": "temporal"},
        "x2": {"datum": {"year": 2026, "month": 8, "date": 9, "hours": 17, "minutes": 56}}
      }
    },
    {
      "data": {"name": "hl"},
      "mark": {"type": "text", "font": "Noto Sans CJK JP", "fontSize": 54, "color": "#ffffff", "align": "center", "baseline": "middle"},
      "encoding": {
        "y": {"field": "p", "type": "quantitative"},
        "x": {"datum": {"year": 2026, "month": 8, "date": 9, "hours": 3, "minutes": 36}, "type": "temporal"},
        "text": {"field": "lab"}
      }
    },
    {
      "data": {"name": "hl"},
      "mark": {"type": "text", "font": "Open Sans", "fontSize": 55, "fontWeight": "bold", "color": "#ffffff", "align": "right", "baseline": "middle"},
      "encoding": {
        "y": {"field": "p", "type": "quantitative"},
        "x": {"datum": {"year": 2026, "month": 8, "date": 9, "hours": 16, "minutes": 51}, "type": "temporal"},
        "text": {"field": "p", "type": "quantitative", "format": ","}
      }
    }
  ]
}
